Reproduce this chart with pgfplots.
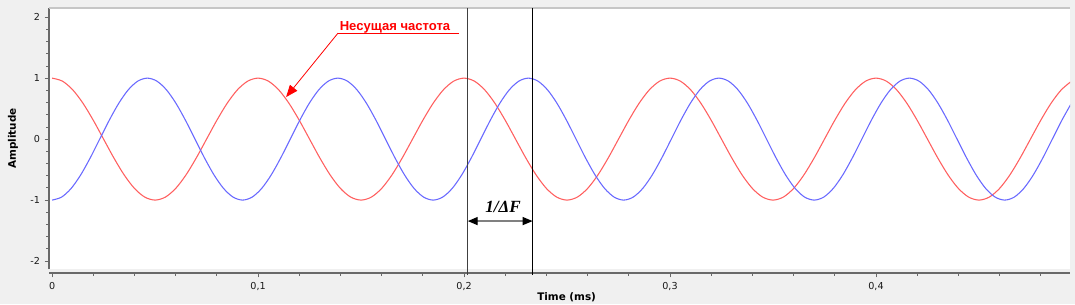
\documentclass[border=0pt]{standalone}
\usepackage{fontspec}
\setmainfont{DejaVu Sans}
\newfontfamily\annfont{Liberation Sans}
\newfontfamily\serifont{Liberation Serif}
\usepackage{pgfplots}
\pgfplotsset{compat=1.18}
\usetikzlibrary{arrows.meta}
\definecolor{bggray}{RGB}{240,240,240}
\definecolor{cred}{RGB}{255,95,95}
\definecolor{cblue}{RGB}{105,105,255}
\definecolor{axgray}{RGB}{105,105,105}
\begin{document}
\begin{tikzpicture}
\path[use as bounding box, fill=bggray] (-36.75pt,-26.25pt) rectangle (769.5pt,201.75pt);
\begin{axis}[
  at={(0,0)}, anchor=south west,
  scale only axis, width=765.75pt, height=195.75pt,
  xmin=-0.0015, xmax=0.4942, ymin=-2.13, ymax=2.15,
  axis background/.style={fill=white},
  axis x line*=bottom, axis y line*=left,
  axis x line shift=3pt,
  axis line style={axgray, line width=0.9pt},
  tick align=outside,
  major tick length=3.2pt, minor tick length=2pt,
  tick style={axgray, line width=0.6pt},
  xtick={0,0.1,0.2,0.3,0.4},
  xticklabels={0,{0,1},{0,2},{0,3},{0,4}},
  minor xtick={0.02,0.04,0.06,0.08,0.12,0.14,0.16,0.18,0.22,0.24,0.26,0.28,0.32,0.34,0.36,0.38,0.42,0.44,0.46,0.48},
  ytick={-2,-1,0,1,2},
  yticklabels={-2,-1,0,1,2},
  minor ytick={-1.8,-1.6,-1.4,-1.2,-0.8,-0.6,-0.4,-0.2,0.2,0.4,0.6,0.8,1.2,1.4,1.6,1.8},
  ticklabel style={font=\fontsize{7.2}{8}\selectfont, text=black!90},
  xlabel={Time (ms)}, ylabel={Amplitude},
  label style={font=\fontsize{7.8}{9}\bfseries\selectfont},
  xlabel style={at={(axis description cs:0.507,0)}, anchor=center, yshift=-21pt},
  ylabel style={at={(axis description cs:-0.0353,0.5)}, anchor=center},
  clip mode=individual,
]
\draw[gray!45, line width=0.8pt] (rel axis cs:0,1) -- (rel axis cs:1,1);
% red carrier
\addplot[cred, line width=0.8pt, smooth] coordinates {
(0,1) (0.005,0.9511) (0.01,0.809) (0.015,0.5878) (0.02,0.309) (0.025,0) (0.03,-0.309) (0.035,-0.5878) (0.04,-0.809) (0.045,-0.9511)
(0.05,-1) (0.055,-0.9511) (0.06,-0.809) (0.065,-0.5878) (0.07,-0.309) (0.075,0) (0.08,0.309) (0.085,0.5878) (0.09,0.809) (0.095,0.9511)
(0.1,1) (0.105,0.9511) (0.11,0.809) (0.115,0.5878) (0.12,0.309) (0.125,0) (0.13,-0.309) (0.135,-0.5878) (0.14,-0.809) (0.145,-0.9511)
(0.15,-1) (0.155,-0.9511) (0.16,-0.809) (0.165,-0.5878) (0.17,-0.309) (0.175,0) (0.18,0.309) (0.185,0.5878) (0.19,0.809) (0.195,0.9511)
(0.2,1) (0.205,0.9511) (0.21,0.809) (0.215,0.5878) (0.22,0.309) (0.225,0) (0.23,-0.309) (0.235,-0.5878) (0.24,-0.809) (0.245,-0.9511)
(0.25,-1) (0.255,-0.9511) (0.26,-0.809) (0.265,-0.5878) (0.27,-0.309) (0.275,0) (0.28,0.309) (0.285,0.5878) (0.29,0.809) (0.295,0.9511)
(0.3,1) (0.305,0.9511) (0.31,0.809) (0.315,0.5878) (0.32,0.309) (0.325,0) (0.33,-0.309) (0.335,-0.5878) (0.34,-0.809) (0.345,-0.9511)
(0.35,-1) (0.355,-0.9511) (0.36,-0.809) (0.365,-0.5878) (0.37,-0.309) (0.375,0) (0.38,0.309) (0.385,0.5878) (0.39,0.809) (0.395,0.9511)
(0.4,1) (0.405,0.9511) (0.41,0.809) (0.415,0.5878) (0.42,0.309) (0.425,0) (0.43,-0.309) (0.435,-0.5878) (0.44,-0.809) (0.445,-0.9511)
(0.45,-1) (0.455,-0.9511) (0.46,-0.809) (0.465,-0.5878) (0.47,-0.309) (0.475,0) (0.48,0.309) (0.485,0.5878) (0.49,0.809) (0.495,0.9511)
};
% blue
\addplot[cblue, line width=0.8pt, smooth] coordinates {
(0,-1) (0.004625,-0.9511) (0.00925,-0.809) (0.013875,-0.5878) (0.0185,-0.309) (0.023125,0) (0.02775,0.309) (0.032375,0.5878) (0.037,0.809) (0.041625,0.9511)
(0.04625,1) (0.050875,0.9511) (0.0555,0.809) (0.060125,0.5878) (0.06475,0.309) (0.069375,0) (0.074,-0.309) (0.078625,-0.5878) (0.08325,-0.809) (0.087875,-0.9511)
(0.0925,-1) (0.097125,-0.9511) (0.10175,-0.809) (0.106375,-0.5878) (0.111,-0.309) (0.115625,0) (0.12025,0.309) (0.124875,0.5878) (0.1295,0.809) (0.134125,0.9511)
(0.13875,1) (0.143375,0.9511) (0.148,0.809) (0.152625,0.5878) (0.15725,0.309) (0.161875,0) (0.1665,-0.309) (0.171125,-0.5878) (0.17575,-0.809) (0.180375,-0.9511)
(0.185,-1) (0.189625,-0.9511) (0.19425,-0.809) (0.198875,-0.5878) (0.2035,-0.309) (0.208125,0) (0.21275,0.309) (0.217375,0.5878) (0.222,0.809) (0.226625,0.9511)
(0.23125,1) (0.235875,0.9511) (0.2405,0.809) (0.245125,0.5878) (0.24975,0.309) (0.254375,0) (0.259,-0.309) (0.263625,-0.5878) (0.26825,-0.809) (0.272875,-0.9511)
(0.2775,-1) (0.282125,-0.9511) (0.28675,-0.809) (0.291375,-0.5878) (0.296,-0.309) (0.300625,0) (0.30525,0.309) (0.309875,0.5878) (0.3145,0.809) (0.319125,0.9511)
(0.32375,1) (0.328375,0.9511) (0.333,0.809) (0.337625,0.5878) (0.34225,0.309) (0.346875,0) (0.3515,-0.309) (0.356125,-0.5878) (0.36075,-0.809) (0.365375,-0.9511)
(0.37,-1) (0.374625,-0.9511) (0.37925,-0.809) (0.383875,-0.5878) (0.3885,-0.309) (0.393125,0) (0.39775,0.309) (0.402375,0.5878) (0.407,0.809) (0.411625,0.9511)
(0.41625,1) (0.420875,0.9511) (0.4255,0.809) (0.430125,0.5878) (0.43475,0.309) (0.439375,0) (0.444,-0.309) (0.448625,-0.5878) (0.45325,-0.809) (0.457875,-0.9511)
(0.4625,-1) (0.467125,-0.9511) (0.47175,-0.809) (0.476375,-0.5878) (0.481,-0.309) (0.485625,0) (0.49025,0.309) (0.494875,0.5878)
};
% markers for 1/dF
\draw[black!75, line width=0.8pt] (axis cs:0.2018,2.15) -- (axis cs:0.2018,-2.23);
\draw[black, line width=0.8pt] (axis cs:0.2333,2.15) -- (axis cs:0.2333,-2.23);
\draw[gray, line width=1.1pt, {Triangle[black, length=7.5pt, width=6pt]}-{Triangle[black, length=7.5pt, width=6pt]}]
  (axis cs:0.2018,-1.344) -- (axis cs:0.2333,-1.344);
\node[font=\fontsize{12.8}{14}\serifont\bfseries\itshape\selectfont] at (axis cs:0.2189,-1.12) {1/ΔF};
% annotation
\node[font=\fontsize{9.8}{11}\annfont\bfseries\selectfont, text=red, anchor=base] at (axis cs:0.1665,1.775) {Несущая частота};
\draw[red, line width=0.6pt] (axis cs:0.1976,1.738) -- (axis cs:0.1388,1.738);
\draw[red, line width=0.6pt, -{Triangle[red, length=9pt, width=7pt]}] (axis cs:0.1388,1.738) -- (axis cs:0.1136,0.689);
\end{axis}
\end{tikzpicture}
\end{document}
